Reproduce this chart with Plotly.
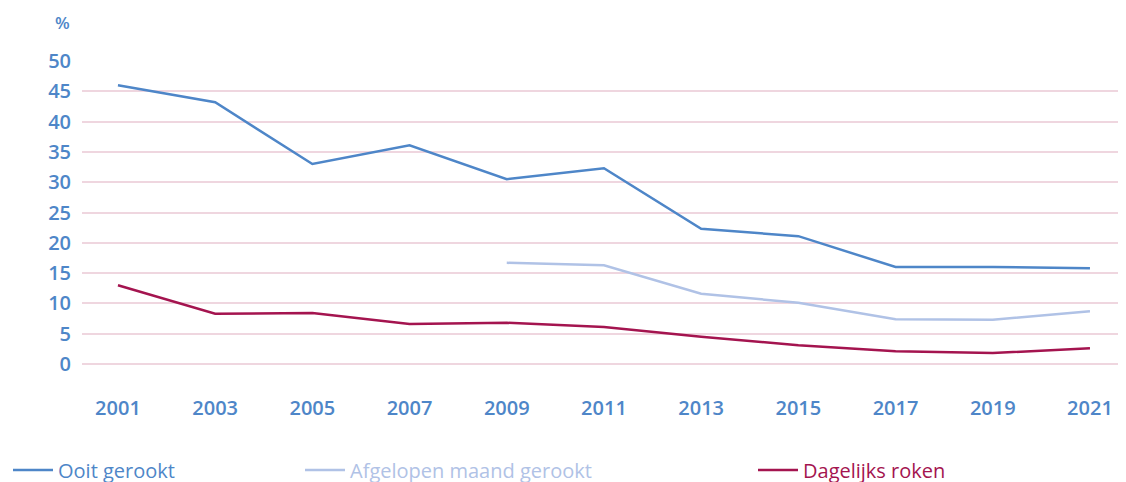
import plotly.graph_objects as go

years = [2001, 2003, 2005, 2007, 2009, 2011, 2013, 2015, 2017, 2019, 2021]
ooit = [46.0, 43.2, 33.0, 36.1, 30.5, 32.3, 22.3, 21.1, 16.0, 16.0, 15.8]
maand_years = [2009, 2011, 2013, 2015, 2017, 2019, 2021]
maand = [16.7, 16.3, 11.6, 10.1, 7.4, 7.3, 8.7]
dagelijks = [13.0, 8.3, 8.4, 6.6, 6.8, 6.1, 4.5, 3.1, 2.1, 1.8, 2.6]
y_ticks = [0, 5, 10, 15, 20, 25, 30, 35, 40, 45, 50]

C_OOIT = "#4e86c8"
C_MAAND = "#b0c2e6"
C_DAG = "#a4144f"
GRID = "#efd6df"
FONT = "Open Sans"

W, H = 1126, 482
ML, MR, MT, MB = 74, 0, 53, 96
PW, PH = W - ML - MR, H - MT - MB

fig = go.Figure()
fig.add_trace(go.Scatter(x=years, y=ooit, mode="lines", line=dict(color=C_OOIT, width=2.5),
                         name="Ooit gerookt", legend="legend"))
fig.add_trace(go.Scatter(x=maand_years, y=maand, mode="lines", line=dict(color=C_MAAND, width=2.5),
                         name="Afgelopen maand gerookt", legend="legend2"))
fig.add_trace(go.Scatter(x=years, y=dagelijks, mode="lines", line=dict(color=C_DAG, width=2.5),
                         name="Dagelijks roken", legend="legend3"))

def leg(xpx, color):
    return dict(x=xpx / W, y=(H - 462) / H, xref="container", yref="container",
                xanchor="left", yanchor="middle",
                orientation="h", font=dict(family=FONT, size=20, color=color),
                bgcolor="rgba(0,0,0,0)", itemwidth=40, tracegroupgap=0)

fig.update_layout(
    width=W, height=H,
    margin=dict(l=ML, r=MR, t=MT, b=MB, autoexpand=False),
    paper_bgcolor="white", plot_bgcolor="white",
    font=dict(family=FONT, color=C_OOIT),
    showlegend=True,
    legend=leg(-3, C_OOIT),
    legend2=leg(292, C_MAAND),
    legend3=leg(745, C_DAG),
    xaxis=dict(range=[2000.26, 2000.26 + PW / 48.6], tickvals=years, ticktext=[str(y) for y in years],
               showgrid=False, zeroline=False, showline=False, ticks="",
               tickfont=dict(family=FONT, size=20, color=C_OOIT, weight=600)),
    yaxis=dict(range=[-4.95, 50], tickvals=y_ticks, showgrid=True, gridcolor=GRID, gridwidth=2,
               zeroline=False, showline=False, ticks="", ticklabelstandoff=10,
               tickfont=dict(family=FONT, size=20, color=C_OOIT, weight=600)),
)
fig.add_annotation(text="%", xref="paper", yref="paper", x=(54 - ML) / PW, y=1 + (MT - 14) / PH,
                   xanchor="center", yanchor="middle", showarrow=False,
                   font=dict(family=FONT, size=17, color=C_OOIT, weight=600))

fig.write_html("out.html")
